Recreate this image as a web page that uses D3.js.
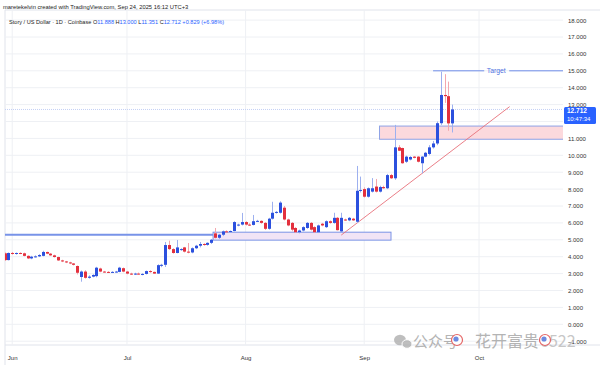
<!DOCTYPE html>
<html><head><meta charset="utf-8">
<script src="https://cdn.jsdelivr.net/npm/d3@7"></script>
<style>body{margin:0;background:#fff}svg{display:block}</style>
</head><body>
<svg id="c" width="600" height="365"></svg>
<script>
// ---------- DATA ----------
const startDate = "2025-05-30"; // one daily candle per entry
const opens  = [4.20,3.80,4.22,4.18,4.22,4.20,4.05,3.90,4.00,4.02,4.05,4.28,4.18,4.08,3.98,3.78,3.72,3.66,3.60,3.45,2.80,3.12,2.75,2.82,2.85,3.30,3.12,3.10,3.08,3.10,3.10,3.32,3.12,3.00,2.98,3.00,2.97,2.98,3.15,3.10,3.00,3.50,3.52,4.69,4.45,4.22,4.40,4.55,4.30,4.25,4.50,4.65,4.75,4.70,4.82,5.38,5.12,5.30,5.50,5.46,5.52,5.85,5.90,6.05,5.90,5.88,6.10,6.12,6.00,5.65,6.25,6.60,6.60,6.90,6.20,6.00,5.70,5.45,5.55,5.70,6.00,5.75,5.45,5.95,5.75,6.10,6.00,6.30,5.50,6.20,6.15,6.25,6.07,7.90,8.00,7.55,7.85,8.15,7.85,8.12,8.05,8.83,8.64,10.47,10.43,9.62,9.75,9.92,9.92,9.53,9.92,10.08,10.47,10.70,11.90,13.57,13.50,11.888];
const highs  = [4.25,4.25,4.28,4.25,4.26,4.24,4.08,4.05,4.08,4.15,4.35,4.30,4.22,4.12,4.00,3.82,3.75,3.70,3.62,3.48,3.18,3.20,2.90,2.96,3.40,3.35,3.16,3.14,3.14,3.16,3.40,3.36,3.16,3.05,3.05,3.06,3.02,3.18,3.20,3.12,3.55,3.58,4.87,4.95,4.50,4.99,4.50,4.58,4.81,4.55,4.70,4.87,4.80,4.85,5.05,5.70,5.35,5.55,5.56,5.55,6.10,5.95,6.59,6.10,5.98,6.47,6.18,6.15,6.05,6.30,7.25,6.70,7.28,7.00,6.25,6.05,5.75,5.60,5.80,6.05,6.05,5.80,5.90,6.00,6.15,6.15,6.60,6.35,6.60,6.25,6.35,6.30,9.37,8.74,8.10,8.10,8.65,8.60,8.20,8.20,8.90,8.90,11.80,10.60,10.45,9.98,9.95,9.95,9.95,9.95,10.20,10.60,10.85,12.00,14.95,14.80,14.36,13.00];
const lows   = [3.75,3.78,4.12,4.12,4.15,4.02,3.86,3.85,3.95,3.98,4.02,4.15,4.05,3.95,3.75,3.68,3.62,3.56,3.48,2.95,2.52,2.70,2.70,2.78,2.78,3.08,3.06,3.04,3.05,3.06,3.08,3.08,2.96,2.92,2.92,2.94,2.90,2.95,3.05,2.98,2.98,3.38,3.39,4.40,4.18,4.20,4.35,4.25,4.20,4.20,4.45,4.55,4.65,4.65,4.75,5.08,5.05,5.22,5.42,5.42,5.50,5.80,5.85,5.85,5.82,5.85,6.05,5.95,5.58,5.60,6.20,6.55,6.55,6.15,5.80,5.50,5.40,5.38,5.50,5.65,5.55,5.40,5.40,5.80,5.70,5.95,5.95,5.55,5.45,6.12,6.10,6.12,6.00,7.80,7.50,7.50,7.80,7.80,7.80,8.02,8.00,8.60,8.55,10.25,9.50,9.55,9.70,9.82,9.58,8.93,9.88,10.00,10.40,10.60,11.80,13.10,11.45,11.351];
const closes = [3.80,4.22,4.18,4.22,4.20,4.05,3.90,4.00,4.02,4.10,4.28,4.18,4.08,3.98,3.78,3.72,3.66,3.60,3.52,3.05,3.12,2.75,2.82,2.92,3.35,3.12,3.10,3.08,3.10,3.12,3.35,3.12,3.00,2.98,3.00,2.97,2.98,3.15,3.10,3.00,3.50,3.52,4.69,4.45,4.22,4.55,4.45,4.30,4.25,4.50,4.65,4.75,4.70,4.82,5.00,5.12,5.30,5.50,5.46,5.52,6.05,5.90,6.05,5.90,5.88,6.10,6.12,6.00,5.65,6.25,6.60,6.65,7.20,6.20,5.85,5.60,5.45,5.55,5.75,6.00,5.60,5.45,5.85,5.85,6.10,6.00,6.30,5.57,6.30,6.15,6.30,6.15,7.90,7.95,7.55,8.05,8.05,7.85,8.12,8.05,8.83,8.64,10.47,10.27,9.53,9.92,9.90,9.85,9.62,9.92,10.15,10.47,10.70,11.90,13.57,13.50,11.888,12.712];
const priceTicks = [-1,0,1,2,3,4,5,6,7,8,9,10,11,12,13,14,15,16,17,18];
const monthTicks = ["2025-06-01","2025-07-01","2025-08-01","2025-09-01","2025-10-01"];
const lastPrice = 12.712;
const countdown = "10:47:34";
const supportLine = {from:"2025-05-28", to:"2025-07-23T12:00", level:5.3};
const lowZone  = {from:"2025-07-23T12:00", to:"2025-09-08", top:5.45, bottom:4.98};
const highZone = {from:"2025-09-05", to:"2025-11-30", top:11.73, bottom:10.95};
const target   = {from:"2025-09-19", to:"2025-11-30", level:15.0, label:"Target", labelAt:"2025-10-05T12:00"};
const trend    = {from:"2025-08-26", fromVal:5.28, to:"2025-10-09", toVal:12.88};
const titleLine1 = "maretekelvin created with TradingView.com, Sep 24, 2025 16:12 UTC+3";
const symbolText = "Story / US Dollar · 1D · Coinbase";
const ohlcLabels = [["O","11.888"],["H","13.000"],["L","11.351"],["C","12.712"],["","+0.829 (+6.98%)"]];

// ---------- DRAW ----------
const P = s => new Date(s.length > 10 ? s + "Z" : s + "T00:00Z");
const svg = d3.select("#c");
const font = "'Liberation Sans', Arial, sans-serif";
const pane = {l:5, r:563, t:10, b:345};
const x = d3.scaleUtc().domain([P("2025-06-01"), P("2025-10-01")]).range([12.2, 479]);
const y = d3.scaleLinear().domain([0, 18]).range([324.3, 20.1]);
const start = P(startDate);
const candles = closes.map((c,i)=>({date:d3.utcDay.offset(start,i),o:opens[i],h:highs[i],l:lows[i],c}));

// frame
svg.append("rect").attr("x",0).attr("y",0).attr("width",600).attr("height",365).attr("fill","#fff");
svg.append("line").attr("x1",pane.l).attr("x2",600).attr("y1",pane.t).attr("y2",pane.t).attr("stroke","#e0e3eb");
svg.append("line").attr("x1",pane.l).attr("x2",pane.l).attr("y1",pane.t).attr("y2",365).attr("stroke","#e0e3eb");
svg.append("line").attr("x1",pane.l).attr("x2",600).attr("y1",pane.b).attr("y2",pane.b).attr("stroke","#e0e3eb");

svg.append("defs").append("clipPath").attr("id","clip").append("rect")
  .attr("x",pane.l).attr("y",pane.t).attr("width",pane.r-pane.l).attr("height",pane.b-pane.t);

// grid
const grid = svg.append("g");
grid.selectAll("line.h").data(priceTicks).join("line")
  .attr("x1",pane.l).attr("x2",pane.r).attr("y1",d=>y(d)).attr("y2",d=>y(d))
  .attr("stroke","#eef0f4").attr("stroke-width",1);
grid.selectAll("line.v").data(monthTicks).join("line")
  .attr("x1",d=>x(P(d))).attr("x2",d=>x(P(d))).attr("y1",pane.t).attr("y2",pane.b)
  .attr("stroke","#eef0f4").attr("stroke-width",1);

// right axis
const ya = svg.append("g").attr("transform","translate(563,0)")
  .call(d3.axisRight(y).tickValues(priceTicks).tickFormat(d3.format(".3f")).tickSize(0).tickPadding(5));
ya.select(".domain").remove();
ya.selectAll("text").attr("font-family",font).attr("font-size",6).attr("fill","#333");

// bottom axis
const xa = svg.append("g").attr("transform",`translate(0,${pane.b})`)
  .call(d3.axisBottom(x).tickValues(monthTicks.map(P)).tickFormat(d3.utcFormat("%b")).tickSize(0).tickPadding(11));
xa.select(".domain").remove();
xa.selectAll("text").attr("font-family",font).attr("font-size",6).attr("fill","#333");

const plot = svg.append("g").attr("clip-path","url(#clip)");

// current price dotted line
plot.append("line").attr("x1",pane.l).attr("x2",pane.r).attr("y1",y(lastPrice)).attr("y2",y(lastPrice))
  .attr("stroke","#c3cff5").attr("stroke-dasharray","1,1").attr("stroke-width",1);

// support line and zones
plot.append("line").attr("x1",x(P(supportLine.from))).attr("x2",x(P(supportLine.to)))
  .attr("y1",y(supportLine.level)).attr("y2",y(supportLine.level))
  .attr("stroke","#7893e8").attr("stroke-width",2);
plot.append("rect").attr("x",x(P(lowZone.from))).attr("y",y(lowZone.top))
  .attr("width",x(P(lowZone.to))-x(P(lowZone.from))).attr("height",y(lowZone.bottom)-y(lowZone.top))
  .attr("fill","#f1e4f6").attr("stroke","#7b93e6").attr("stroke-width",1);
plot.append("rect").attr("x",x(P(highZone.from))).attr("y",y(highZone.top))
  .attr("width",x(P(highZone.to))-x(P(highZone.from))).attr("height",y(highZone.bottom)-y(highZone.top))
  .attr("fill","#fcd9dd").attr("stroke","#8ea2e6").attr("stroke-width",1);

// target line
const tx = x(P(target.labelAt));
plot.append("line").attr("x1",x(P(target.from))).attr("x2",tx-12).attr("y1",y(target.level)).attr("y2",y(target.level))
  .attr("stroke","#6f8ee8").attr("stroke-width",1);
plot.append("line").attr("x1",tx+13).attr("x2",x(P(target.to))).attr("y1",y(target.level)).attr("y2",y(target.level))
  .attr("stroke","#6f8ee8").attr("stroke-width",1);
plot.append("text").attr("x",tx).attr("y",y(target.level)+2.3).attr("text-anchor","middle")
  .attr("font-family",font).attr("font-size",6.8).attr("fill","#4f72e0").text(target.label);

// trendline
plot.append("line").attr("x1",x(P(trend.from))).attr("y1",y(trend.fromVal))
  .attr("x2",x(P(trend.to))).attr("y2",y(trend.toVal))
  .attr("stroke","#e8707b").attr("stroke-width",0.9);

// candles
const up = "#2b50de", down = "#e3303d", upW = "#9db0ef", downW = "#f3a7ae";
const cg = plot.append("g");
cg.selectAll("line.w").data(candles).join("line")
  .attr("x1",d=>Math.round(x(d.date))+0.5).attr("x2",d=>Math.round(x(d.date))+0.5)
  .attr("y1",d=>y(d.h)).attr("y2",d=>y(d.l))
  .attr("stroke",d=>d.c>=d.o?upW:downW).attr("stroke-width",1);
cg.selectAll("rect").data(candles).join("rect")
  .attr("x",d=>Math.round(x(d.date))-1).attr("width",3)
  .attr("y",d=>y(Math.max(d.o,d.c)))
  .attr("height",d=>Math.max(1,Math.abs(y(d.o)-y(d.c))))
  .attr("fill",d=>d.c>=d.o?up:down);

// price label
const py = y(lastPrice);
svg.append("rect").attr("x",564).attr("y",py-2.5).attr("width",32).attr("height",17).attr("rx",1.5).attr("fill","#2962ff");
svg.append("text").attr("x",567).attr("y",py+3.6).attr("font-family",font).attr("font-size",6.5).attr("font-weight","bold").attr("fill","#fff").text(lastPrice.toFixed(3));
svg.append("text").attr("x",567).attr("y",py+11.4).attr("font-family",font).attr("font-size",6).attr("fill","#fff").text(countdown);

// header
svg.append("text").attr("x",3).attr("y",8.5).attr("font-family",font).attr("font-size",5.8).attr("fill","#222").text(titleLine1);
const h2 = svg.append("text").attr("x",9).attr("y",23.5).attr("font-family",font).attr("font-size",5.6).attr("fill","#222");
h2.append("tspan").text(symbolText + "  ");
ohlcLabels.forEach(([k,v])=>{
  h2.append("tspan").attr("fill","#222").text(k);
  h2.append("tspan").attr("fill","#2962ff").text(v + " ");
});

// watermark
const wm = svg.append("g").attr("opacity",0.75);
wm.append("ellipse").attr("cx",400).attr("cy",340).attr("rx",6).attr("ry",5.2).attr("fill","#a9a9a9");
wm.append("ellipse").attr("cx",407).attr("cy",344).attr("rx",5).attr("ry",4.3).attr("fill","#a9a9a9").attr("stroke","#fff").attr("stroke-width",1);
wm.append("text").attr("x",413).attr("y",347).attr("font-family","'Noto Sans CJK SC'").attr("font-size",15).attr("fill","#9b9b9b").text("公众号");
wm.append("text").attr("x",475).attr("y",347).attr("font-family","'Noto Sans CJK SC'").attr("font-size",16).attr("fill","#9b9b9b").text("花开富贵");
wm.append("text").attr("x",540).attr("y",347).attr("font-family","'Noto Sans CJK SC'").attr("font-size",16).attr("fill","#b5b5b5").text("6522");
[[457,340],[545,340]].forEach(([cx,cy])=>{
  wm.append("circle").attr("cx",cx).attr("cy",cy).attr("r",5.5).attr("fill","#fff").attr("stroke","#d33").attr("stroke-width",1.2);
  wm.append("circle").attr("cx",cx-1).attr("cy",cy-1).attr("r",2.6).attr("fill","#3b63d8");
});
</script>
</body></html>
